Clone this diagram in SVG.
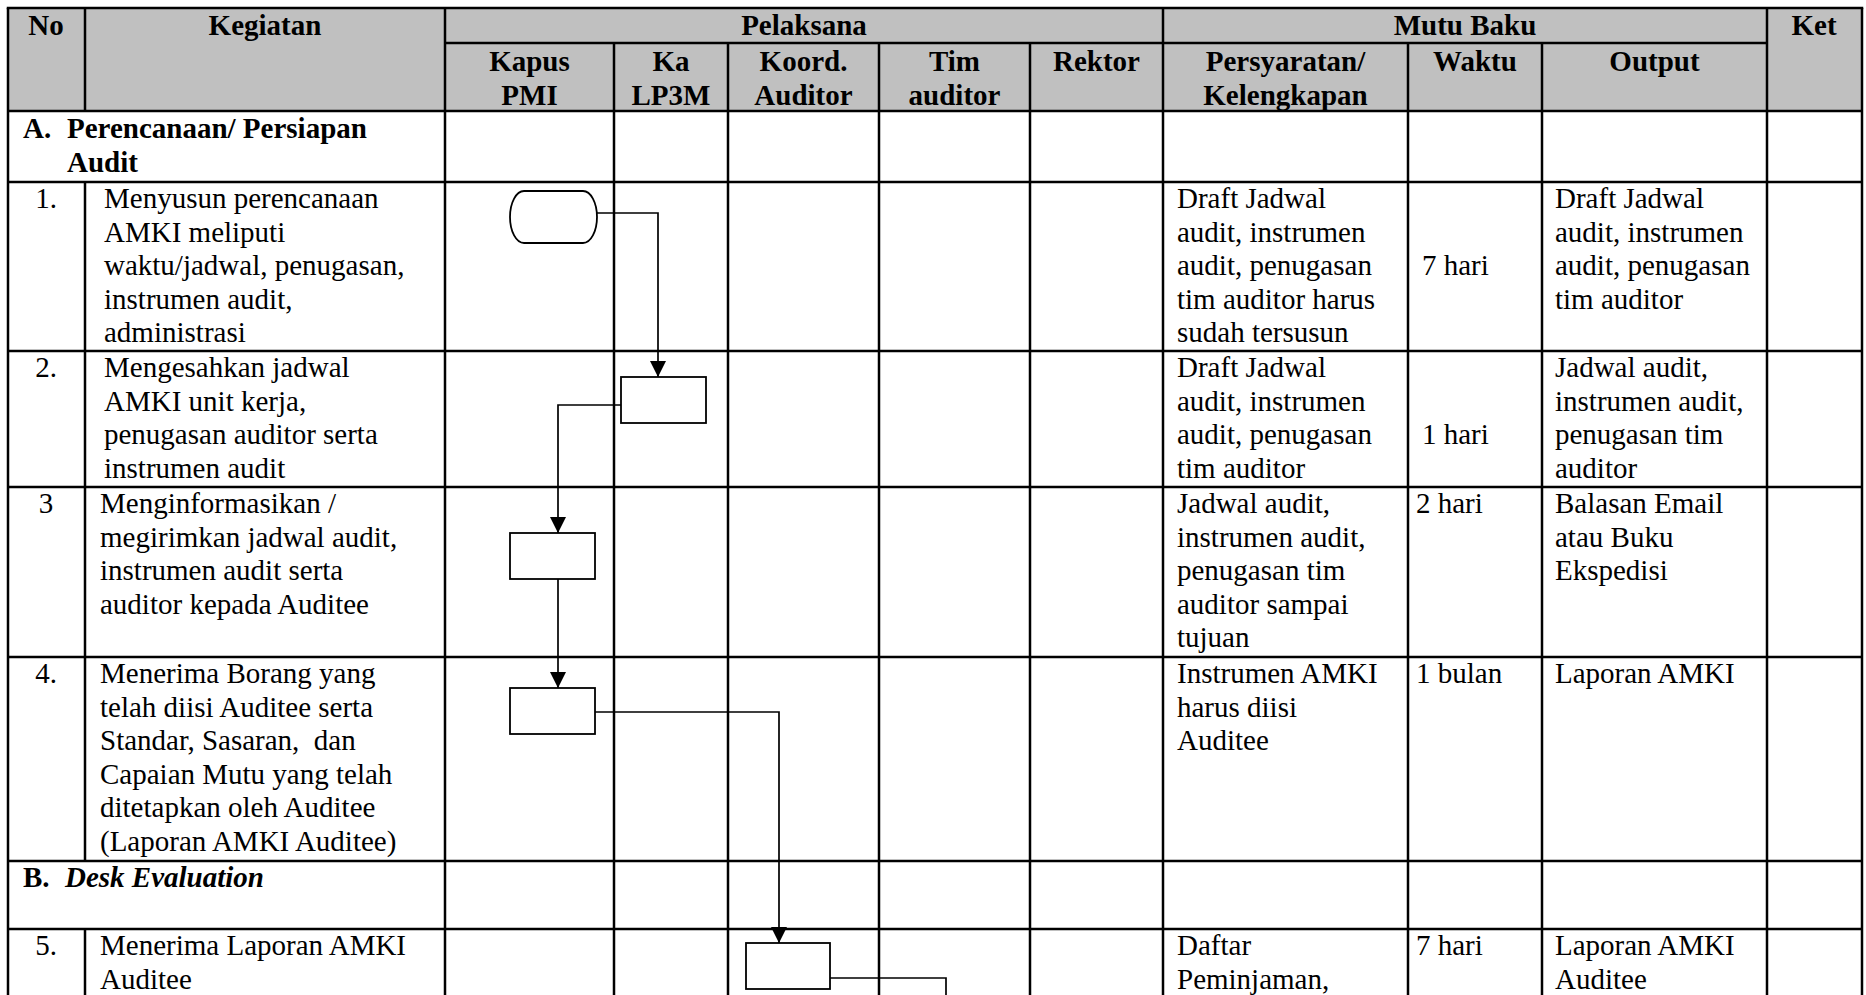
<svg xmlns="http://www.w3.org/2000/svg" width="1866" height="995" viewBox="0 0 1866 995">
<style>
text{font-family:"Liberation Serif","Times New Roman",serif;font-size:29px;fill:#000}
.b{font-weight:bold}
.bi{font-weight:bold;font-style:italic}
.c{text-anchor:middle}
.grid line{stroke:#000;stroke-width:2.5}
.shape{fill:#fff;stroke:#000;stroke-width:1.8}
.conn path{fill:none;stroke:#000;stroke-width:1.7}
</style>
<defs>
<marker id="arr" markerUnits="userSpaceOnUse" markerWidth="16" markerHeight="16" refX="16" refY="8" orient="auto">
<path d="M0,0 L16,8 L0,16 z" fill="#000"/>
</marker>
</defs>
<rect x="0" y="0" width="1866" height="995" fill="#fff"/>
<rect x="8" y="8" width="1854" height="103" fill="#c0c0c0"/>
<g class="grid">
<line x1="6.75" y1="8" x2="1863.25" y2="8"/>
<line x1="445" y1="43" x2="1767" y2="43"/>
<line x1="8" y1="111" x2="1862" y2="111"/>
<line x1="8" y1="182" x2="1862" y2="182"/>
<line x1="8" y1="351" x2="1862" y2="351"/>
<line x1="8" y1="487" x2="1862" y2="487"/>
<line x1="8" y1="657" x2="1862" y2="657"/>
<line x1="8" y1="861" x2="1862" y2="861"/>
<line x1="8" y1="929" x2="1862" y2="929"/>
<line x1="8" y1="8" x2="8" y2="995"/>
<line x1="85" y1="8" x2="85" y2="111"/>
<line x1="85" y1="182" x2="85" y2="861"/>
<line x1="85" y1="929" x2="85" y2="995"/>
<line x1="445" y1="8" x2="445" y2="995"/>
<line x1="614" y1="43" x2="614" y2="995"/>
<line x1="728" y1="43" x2="728" y2="995"/>
<line x1="879" y1="43" x2="879" y2="995"/>
<line x1="1030" y1="43" x2="1030" y2="995"/>
<line x1="1163" y1="8" x2="1163" y2="995"/>
<line x1="1408" y1="43" x2="1408" y2="995"/>
<line x1="1542" y1="43" x2="1542" y2="995"/>
<line x1="1767" y1="8" x2="1767" y2="995"/>
<line x1="1862" y1="8" x2="1862" y2="995"/>
</g>
<g id="header">
<text class="b c" x="46" y="35">No</text>
<text class="b c" x="265" y="35">Kegiatan</text>
<text class="b c" x="804" y="35">Pelaksana</text>
<text class="b c" x="1465" y="35">Mutu Baku</text>
<text class="b c" x="1814" y="35">Ket</text>
<text class="b c" x="529.5" y="71">Kapus<tspan x="529.5" dy="34">PMI</tspan></text>
<text class="b c" x="671" y="71">Ka<tspan x="671" dy="34">LP3M</tspan></text>
<text class="b c" x="803.5" y="71">Koord.<tspan x="803.5" dy="34">Auditor</tspan></text>
<text class="b c" x="954.5" y="71">Tim<tspan x="954.5" dy="34">auditor</tspan></text>
<text class="b c" x="1096.5" y="71">Rektor</text>
<text class="b c" x="1285.5" y="71">Persyaratan/<tspan x="1285.5" dy="34">Kelengkapan</tspan></text>
<text class="b c" x="1475" y="71">Waktu</text>
<text class="b c" x="1654.5" y="71">Output</text>
</g>
<g id="sectionA">
<text class="b" x="23" y="138">A.</text>
<text class="b" x="67" y="138">Perencanaan/ Persiapan<tspan x="67" dy="34">Audit</tspan></text>
</g>
<g id="row1">
<text class="c" x="46" y="208">1.</text>
<text x="104" y="208">Menyusun perencanaan<tspan x="104" dy="33.5">AMKI meliputi</tspan><tspan x="104" dy="33.5">waktu/jadwal, penugasan,</tspan><tspan x="104" dy="33.5">instrumen audit,</tspan><tspan x="104" dy="33.5">administrasi</tspan></text>
<text x="1177" y="208">Draft Jadwal<tspan x="1177" dy="33.5">audit, instrumen</tspan><tspan x="1177" dy="33.5">audit, penugasan</tspan><tspan x="1177" dy="33.5">tim auditor harus</tspan><tspan x="1177" dy="33.5">sudah tersusun</tspan></text>
<text x="1422" y="275">7 hari</text>
<text x="1555" y="208">Draft Jadwal<tspan x="1555" dy="33.5">audit, instrumen</tspan><tspan x="1555" dy="33.5">audit, penugasan</tspan><tspan x="1555" dy="33.5">tim auditor</tspan></text>
</g>
<g id="row2">
<text class="c" x="46" y="377">2.</text>
<text x="104" y="377">Mengesahkan jadwal<tspan x="104" dy="33.5">AMKI unit kerja,</tspan><tspan x="104" dy="33.5">penugasan auditor serta</tspan><tspan x="104" dy="33.5">instrumen audit</tspan></text>
<text x="1177" y="377">Draft Jadwal<tspan x="1177" dy="33.5">audit, instrumen</tspan><tspan x="1177" dy="33.5">audit, penugasan</tspan><tspan x="1177" dy="33.5">tim auditor</tspan></text>
<text x="1422" y="444">1 hari</text>
<text x="1555" y="377">Jadwal audit,<tspan x="1555" dy="33.5">instrumen audit,</tspan><tspan x="1555" dy="33.5">penugasan tim</tspan><tspan x="1555" dy="33.5">auditor</tspan></text>
</g>
<g id="row3">
<text class="c" x="46" y="513">3</text>
<text x="100" y="513">Menginformasikan /<tspan x="100" dy="33.5">megirimkan jadwal audit,</tspan><tspan x="100" dy="33.5">instrumen audit serta</tspan><tspan x="100" dy="33.5">auditor kepada Auditee</tspan></text>
<text x="1177" y="513">Jadwal audit,<tspan x="1177" dy="33.5">instrumen audit,</tspan><tspan x="1177" dy="33.5">penugasan tim</tspan><tspan x="1177" dy="33.5">auditor sampai</tspan><tspan x="1177" dy="33.5">tujuan</tspan></text>
<text x="1416" y="513">2 hari</text>
<text x="1555" y="513">Balasan Email<tspan x="1555" dy="33.5">atau Buku</tspan><tspan x="1555" dy="33.5">Ekspedisi</tspan></text>
</g>
<g id="row4">
<text class="c" x="46" y="683">4.</text>
<text x="100" y="683" xml:space="preserve">Menerima Borang yang<tspan x="100" dy="33.5">telah diisi Auditee serta</tspan><tspan x="100" dy="33.5">Standar, Sasaran,  dan</tspan><tspan x="100" dy="33.5">Capaian Mutu yang telah</tspan><tspan x="100" dy="33.5">ditetapkan oleh Auditee</tspan><tspan x="100" dy="33.5">(Laporan AMKI Auditee)</tspan></text>
<text x="1177" y="683">Instrumen AMKI<tspan x="1177" dy="33.5">harus diisi</tspan><tspan x="1177" dy="33.5">Auditee</tspan></text>
<text x="1416" y="683">1 bulan</text>
<text x="1555" y="683">Laporan AMKI</text>
</g>
<g id="sectionB">
<text class="b" x="23" y="887">B.</text>
<text class="bi" x="65" y="887">Desk Evaluation</text>
</g>
<g id="row5">
<text class="c" x="46" y="955">5.</text>
<text x="100" y="955">Menerima Laporan AMKI<tspan x="100" dy="33.5">Auditee</tspan></text>
<text x="1177" y="955">Daftar<tspan x="1177" dy="33.5">Peminjaman,</tspan></text>
<text x="1416" y="955">7 hari</text>
<text x="1555" y="955">Laporan AMKI<tspan x="1555" dy="33.5">Auditee</tspan></text>
</g>
<g id="connectors" class="conn">
<path d="M597,213 H658 V377" marker-end="url(#arr)"/>
<path d="M621,405 H558 V533" marker-end="url(#arr)"/>
<path d="M558,579 V688" marker-end="url(#arr)"/>
<path d="M595,712 H779 V943" marker-end="url(#arr)"/>
<path d="M830,978 H946 V1000"/>
</g>
<g id="n1"><path class="shape" d="M524,191 H583 A14,26 0 0 1 583,243 H524 A14,26 0 0 1 524,191 Z"/></g>
<g id="n2"><rect class="shape" x="621" y="377" width="85" height="46"/></g>
<g id="n3"><rect class="shape" x="510" y="533" width="85" height="46"/></g>
<g id="n4"><rect class="shape" x="510" y="688" width="85" height="46"/></g>
<g id="n5"><rect class="shape" x="746" y="943" width="84" height="46"/></g>
</svg>
